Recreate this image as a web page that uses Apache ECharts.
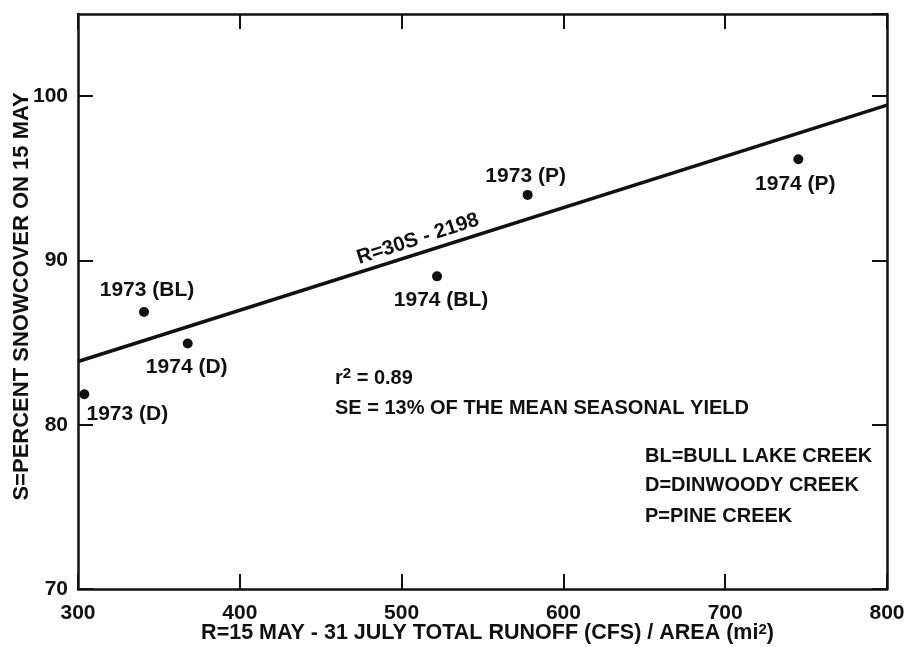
<!DOCTYPE html>
<html>
<head>
<meta charset="utf-8">
<script src="https://cdn.jsdelivr.net/npm/echarts@6/dist/echarts.min.js"></script>
<style>
html,body{margin:0;padding:0;background:#fff;}
#chart{width:911px;height:647px;}
</style>
</head>
<body>
<div id="chart"></div>
<script>
// ---- data ----
const pointLabels = ['1973 (D)', '1973 (BL)', '1974 (D)', '1974 (BL)', '1973 (P)', '1974 (P)'];
const runoff      = [303.9, 340.8, 367.8, 521.9, 577.9, 745.2];
const snowcover   = [81.85, 86.86, 84.94, 89.03, 93.99, 96.16];
const fitRunoff   = [300, 800];
const fitSnow     = [83.85, 99.45];
const xTickValues = [300, 400, 500, 600, 700, 800];
const yTickValues = [70, 80, 90, 100];
const fitText     = 'R=30S - 2198';
const statLines   = ['r{sup|2} = 0.89', 'SE = 13% OF THE MEAN SEASONAL YIELD'];
const legendLines = ['BL=BULL LAKE CREEK', 'D=DINWOODY CREEK', 'P=PINE CREEK'];
const xName = 'R=15 MAY - 31 JULY TOTAL RUNOFF (CFS) / AREA (mi{sup|2})';
const yName = 'S=PERCENT SNOWCOVER ON 15 MAY';

// ---- presentation ----
const FONT = '"Liberation Sans", Arial, sans-serif';
const INK = '#111';
const labelOffsets = [[43, 20], [3, -22], [-1, 24], [4, 24], [-2, -19], [-3, 25]];

const chart = echarts.init(document.getElementById('chart'), null, {renderer: 'canvas'});

const axisLineStyle = {show: true, lineStyle: {color: INK, width: 2.5}};
const tickStyle = {show: true, inside: true, length: 15, lineStyle: {color: INK, width: 2}};
const tickLabel = {
  color: INK, fontFamily: FONT, fontWeight: 'bold', fontSize: 21,
};
const supStyle = {fontFamily: FONT, fontWeight: 'bold', fontSize: 15, color: INK, verticalAlign: 'top', padding: [0, 0, 8, 0]};

const scatterData = runoff.map((x, i) => ({
  value: [x, snowcover[i]],
  label: {
    show: true,
    formatter: pointLabels[i],
    position: 'inside',
    offset: labelOffsets[i],
    align: 'center',
    verticalAlign: 'middle',
    color: INK,
    opacity: 1,
    fontFamily: FONT,
    fontWeight: 'bold',
    fontSize: 21
  }
}));

const option = {
  backgroundColor: '#fff',
  animation: false,
  grid: {left: 78, right: 24, top: 14, bottom: 58, containLabel: false, outerBoundsMode: 'none'},
  xAxis: [
    {
      type: 'value', position: 'bottom',
      min: xTickValues[0], max: xTickValues[xTickValues.length - 1], interval: 100,
      axisLine: axisLineStyle, axisTick: tickStyle,
      splitLine: {show: false},
      axisLabel: Object.assign({margin: 14, showMinLabel: true, showMaxLabel: true,
        formatter: v => xTickValues.includes(v) ? String(v) : ''}, tickLabel),
      name: xName, nameLocation: 'middle', nameGap: 33, nameMoveOverlap: false,
      nameTextStyle: {color: INK, fontFamily: FONT, fontWeight: 'bold', fontSize: 21.5, padding: [0, 0, 0, 10],
        rich: {sup: supStyle}}
    },
    {
      type: 'value', position: 'top',
      min: xTickValues[0], max: xTickValues[xTickValues.length - 1], interval: 100,
      axisLine: axisLineStyle, axisTick: tickStyle,
      splitLine: {show: false}, axisLabel: {show: false}
    }
  ],
  yAxis: [
    {
      type: 'value', position: 'left',
      min: 70, max: 105, interval: 10,
      axisLine: axisLineStyle, axisTick: tickStyle,
      splitLine: {show: false},
      axisLabel: Object.assign({margin: 10, showMaxLabel: false,
        formatter: v => yTickValues.includes(v) ? String(v) : ''}, tickLabel),
      name: yName, nameLocation: 'middle', nameGap: 45, nameRotate: 90, nameMoveOverlap: false,
      nameTextStyle: {color: INK, fontFamily: FONT, fontWeight: 'bold', fontSize: 22, padding: [0, 0, 0, 10]}
    },
    {
      type: 'value', position: 'right',
      min: 70, max: 105, interval: 10,
      axisLine: axisLineStyle, axisTick: tickStyle,
      splitLine: {show: false}, axisLabel: {show: false}
    }
  ],
  series: [
    {
      type: 'line',
      xAxisIndex: 0, yAxisIndex: 0,
      data: fitRunoff.map((x, i) => [x, fitSnow[i]]),
      showSymbol: false, symbol: 'none', silent: true,
      lineStyle: {color: INK, width: 3.5},
      z: 3
    },
    {
      type: 'scatter',
      xAxisIndex: 0, yAxisIndex: 0,
      data: scatterData,
      symbol: 'circle', symbolSize: 10,
      itemStyle: {color: INK, opacity: 1},
      silent: true,
      z: 4
    }
  ],
  graphic: [
    {
      type: 'text', x: 418, y: 239, rotation: 0.315,
      style: {text: fitText, font: 'bold 20.5px ' + FONT, fill: INK, align: 'center', verticalAlign: 'middle'}
    },
    {
      type: 'text', x: 335, y: 378,
      style: {text: statLines[0], font: 'bold 20px ' + FONT, fill: INK, align: 'left', verticalAlign: 'middle',
        rich: {sup: supStyle}}
    },
    {
      type: 'text', x: 335, y: 408,
      style: {text: statLines[1], font: 'bold 20px ' + FONT, fill: INK, align: 'left', verticalAlign: 'middle'}
    },
    {
      type: 'text', x: 645, y: 456,
      style: {text: legendLines[0], font: 'bold 20px ' + FONT, fill: INK, align: 'left', verticalAlign: 'middle'}
    },
    {
      type: 'text', x: 645, y: 485,
      style: {text: legendLines[1], font: 'bold 20px ' + FONT, fill: INK, align: 'left', verticalAlign: 'middle'}
    },
    {
      type: 'text', x: 645, y: 516,
      style: {text: legendLines[2], font: 'bold 20px ' + FONT, fill: INK, align: 'left', verticalAlign: 'middle'}
    }
  ]
};
chart.setOption(option);
</script>
</body>
</html>
